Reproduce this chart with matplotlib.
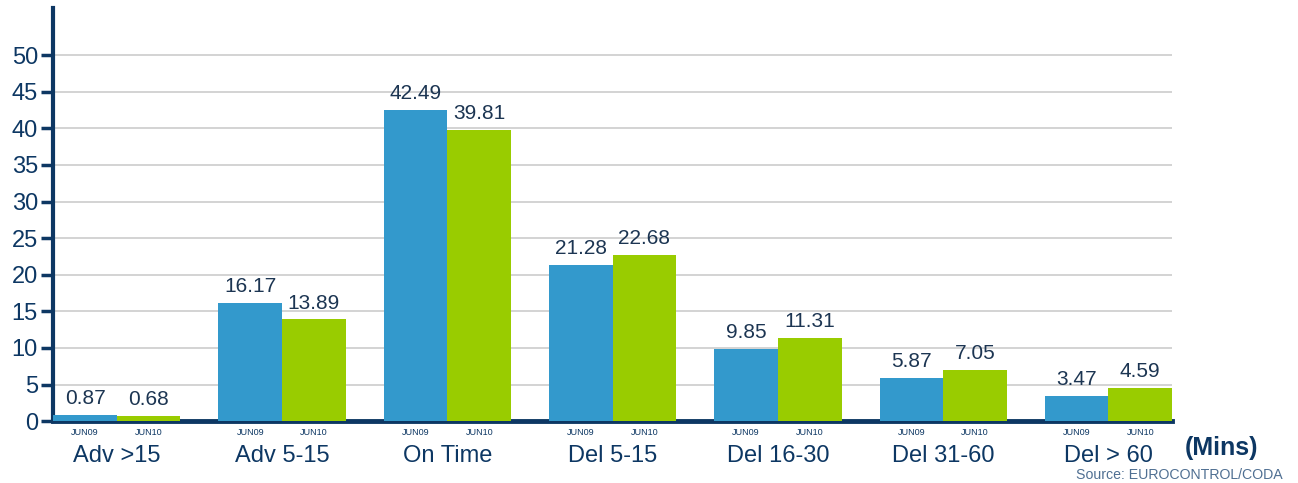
import matplotlib.pyplot as plt
import matplotlib.transforms as mtransforms
import numpy as np

plt.rcParams['font.family'] = ['Liberation Sans', 'DejaVu Sans']

categories = ['Adv >15', 'Adv 5-15', 'On Time', 'Del 5-15', 'Del 16-30', 'Del 31-60', 'Del > 60']
jun09 = [0.87, 16.17, 42.49, 21.28, 9.85, 5.87, 3.47]
jun10 = [0.68, 13.89, 39.81, 22.68, 11.31, 7.05, 4.59]
series_names = ['JUN09', 'JUN10']

navy = '#0d3763'
blue = '#3399cc'
green = '#99cc00'

fig = plt.figure(figsize=(12.98, 4.83), dpi=100)
ax = fig.add_axes([0.041, 0.128, 0.862, 0.855])

x = np.arange(len(categories))
w = 0.385
b1 = ax.bar(x - w / 2, jun09, w, color=blue, zorder=3)
b2 = ax.bar(x + w / 2, jun10, w, color=green, zorder=3)

for bars in (b1, b2):
    for rect in bars:
        h = rect.get_height()
        ax.annotate('%.2f' % h, (rect.get_x() + rect.get_width() / 2, h),
                    xytext=(0, 5), textcoords='offset points',
                    ha='center', va='bottom', fontsize=15, color='#1c3552')

# small series labels under each bar
trans = mtransforms.blended_transform_factory(ax.transData, ax.transAxes)
for i in x:
    for off, name in zip((-w / 2, w / 2), series_names):
        ax.text(i + off, -0.028, name, transform=trans, ha='center', va='center',
                fontsize=6.5, color=navy)

ax.set_xlim(-w, len(categories) - 1 + w)
ax.set_ylim(0, 56.4)
ax.set_yticks(np.arange(0, 51, 5))
ax.set_xticks(x)
ax.set_xticklabels(categories, fontsize=17, color=navy)
ax.tick_params(axis='x', length=0, pad=17)
ax.tick_params(axis='y', labelsize=17, labelcolor=navy, color=navy, length=9,
               width=2.5, pad=2, direction='out')

ax.yaxis.grid(True, color='#cccccc', linewidth=1.2, zorder=0)
ax.set_axisbelow(True)
for s in ('top', 'right'):
    ax.spines[s].set_visible(False)
ax.spines['left'].set_color(navy)
ax.spines['left'].set_linewidth(3)
ax.spines['bottom'].set_color(navy)
ax.spines['bottom'].set_linewidth(3.5)

fig.text(0.913, 0.058, '(Mins)', fontsize=18, fontweight='bold', color=navy)
fig.text(0.988, 0.002, 'Source: EUROCONTROL/CODA', fontsize=10.2, color='#4f6f92',
         ha='right', va='bottom')

fig.savefig('out.png', dpi=100)
